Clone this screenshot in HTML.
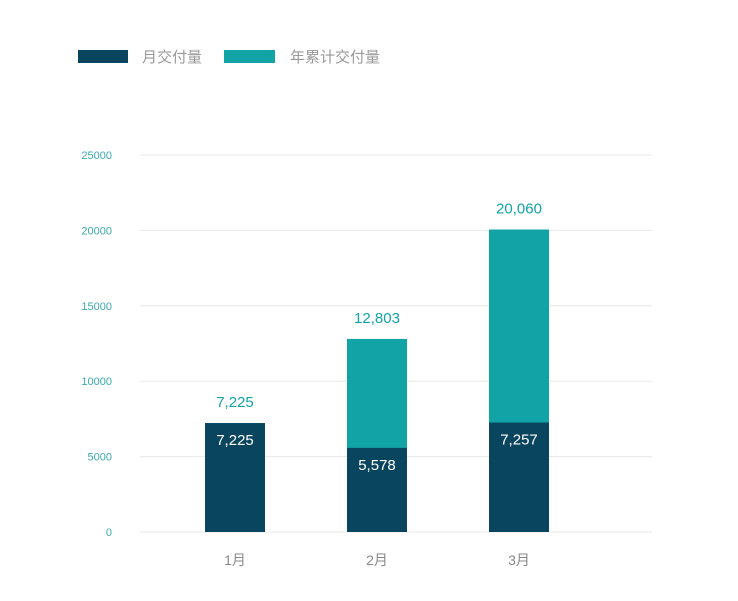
<!DOCTYPE html>
<html><head><meta charset="utf-8"><style>
body{margin:0;background:#fff;width:738px;height:596px;overflow:hidden;font-family:"Liberation Sans","Noto Sans CJK SC",sans-serif}
</style></head><body>
<svg width="738" height="596">
<g>
<rect x="78" y="50" width="50" height="13" fill="#0a4560"/>
<text x="142" y="62" font-size="15" fill="#999" font-family="Noto Sans CJK SC, sans-serif">月交付量</text>
<rect x="224" y="50" width="51" height="13" fill="#12a3a6"/>
<text x="290" y="62" font-size="15" fill="#999" font-family="Noto Sans CJK SC, sans-serif">年累计交付量</text>
</g>
<g id="grid"></g><g id="bars"></g>
</svg>
<script>
const categories=["1月","2月","3月"];
const monthly=[7225,5578,7257];
const cumulative=[7225,12803,20060];
const ticks=[0,5000,10000,15000,20000,25000];
const NS="http://www.w3.org/2000/svg";
const y=v=>532-v*(377/25000);
const xc=i=>235+i*142;
function mk(t,a,p,txt){const e=document.createElementNS(NS,t);for(const k in a)e.setAttribute(k,a[k]);if(txt!==undefined)e.textContent=txt;p.appendChild(e);return e;}
const g=document.getElementById('grid'),b=document.getElementById('bars');
ticks.forEach(t=>{
const l=mk('line',{x1:140,x2:652,y1:y(t),y2:y(t),stroke:'#e8e8e8','stroke-width':1},g);


const tx=mk('text',{x:112,y:y(t)+4,'font-size':11,fill:'#3aa9ad','text-anchor':'end'},g,String(t));


});
categories.forEach((c,i)=>{
const r1=mk('rect',{x:xc(i)-30,y:y(cumulative[i]),width:60,height:532-y(cumulative[i]),fill:'#12a3a6'},b);


const r2=mk('rect',{x:xc(i)-30,y:y(monthly[i]),width:60,height:532-y(monthly[i]),fill:'#0a4560'},b);


const v1=mk('text',{x:xc(i),y:y(cumulative[i])-16,'font-size':15,fill:'#12a3a6','text-anchor':'middle'},b,cumulative[i].toLocaleString('en-US'));


const v2=mk('text',{x:xc(i),y:y(monthly[i])+22,'font-size':15,fill:'#fff','text-anchor':'middle'},b,monthly[i].toLocaleString('en-US'));


const xl=mk('text',{x:xc(i),y:565,'font-size':14,fill:'#888','text-anchor':'middle'},b,c);


});
</script>
</body></html>
